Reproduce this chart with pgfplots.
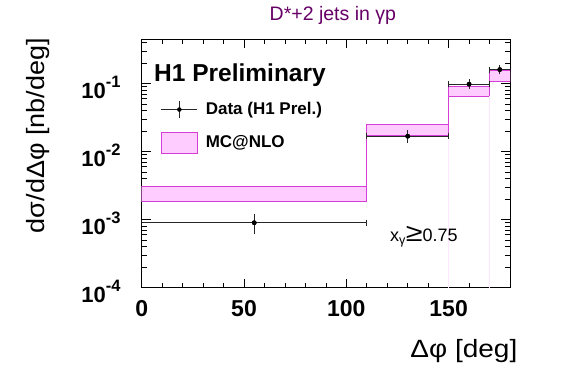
\documentclass[border=0pt]{standalone}
\usepackage{fontspec}
\setmainfont{Liberation Sans}
\usepackage{pgfplots}
\pgfplotsset{compat=1.18}
\definecolor{pinkfill}{RGB}{255,204,255}
\definecolor{magline}{RGB}{214,61,214}
\definecolor{faintpink}{RGB}{255,232,255}
\definecolor{titlepurple}{RGB}{102,0,102}
\newcommand\ylab[1]{\fontsize{22}{22}\selectfont\bfseries 10\raisebox{11pt}{\fontsize{16.5}{16.5}\selectfont #1}}
\begin{document}
\begin{tikzpicture}
\useasboundingbox (-141.7pt,-96.3pt) rectangle (425.3pt,287.7pt);
\begin{axis}[
  at={(0pt,0pt)}, anchor=south west,
  scale only axis, width=368.3pt, height=248.7pt,
  ymode=log, xmin=0, xmax=180, ymin=1e-4, ymax=0.45,
  axis line style={line width=0.8pt},
  every tick/.style={black, line width=0.7pt},
  major tick length=9pt, minor tick length=5pt,
  xtick={0,50,100,150}, xticklabels={0,50,100,150},
  minor xtick={10,20,30,40,60,70,80,90,110,120,130,140,160,170},
  ytick={1e-4,1e-3,1e-2,1e-1},
  yticklabels={\ylab{-4},\ylab{-3},\ylab{-2},\ylab{-1}},
  minor ytick={2e-4,3e-4,4e-4,5e-4,6e-4,7e-4,8e-4,9e-4,2e-3,3e-3,4e-3,5e-3,6e-3,7e-3,8e-3,9e-3,2e-2,3e-2,4e-2,5e-2,6e-2,7e-2,8e-2,9e-2,0.2,0.3,0.4},
  xticklabel style={font=\fontsize{23}{23}\selectfont\bfseries, anchor=north, inner sep=0pt, yshift=-12.3pt},
  yticklabel style={anchor=base east, inner sep=0pt, xshift=-21pt, yshift=-15pt},
  xlabel={\scalebox{1.12}[1]{Δφ [deg]}},
  xlabel style={font=\fontsize{25}{25}\selectfont, at={(axis description cs:1.0206,0)}, anchor=base east, inner sep=0pt, yshift=-69.3pt},
  ylabel={\scalebox{1.08}[1]{dσ/dΔφ [nb/deg]}},
  ylabel style={font=\fontsize{25}{25}\selectfont, at={(axis description cs:-0.265,1.004)}, anchor=base east, inner sep=0pt},
  title={D*+2 jets in γp},
  title style={font=\fontsize{19.5}{19.5}\selectfont, text=titlepurple, at={(axis description cs:0.519,1)}, anchor=base, inner sep=0pt, yshift=12.3pt},
  legend style={at={(rel axis cs:0.0516,0.752)}, anchor=north west, draw=none, fill=none, inner sep=0pt,
    row sep=13.5pt, column sep=8pt, font=\fontsize{17}{17}\selectfont\bfseries,
    nodes={inner sep=0pt}},
  legend cell align=left,
]
% MC@NLO band
\addplot[fill=pinkfill, draw=magline, line width=0.9pt, forget plot] coordinates {
  (0,3.11e-3) (110,3.11e-3) (110,2.53e-2) (150,2.53e-2) (150,0.0913) (170,0.0913) (170,0.153) (180,0.153)
  (180,0.1055) (170,0.1055) (170,0.0652) (150,0.0652) (150,1.74e-2) (110,1.74e-2) (110,1.83e-3) (0,1.83e-3)
} -- cycle;
\addplot[faintpink, line width=0.6pt, forget plot] coordinates {(150,1e-4) (150,1.74e-2)};
\addplot[faintpink, line width=0.6pt, forget plot] coordinates {(170,1e-4) (170,0.0652)};
% Data: horizontal (bin width) error bars
\addplot[draw=none, only marks, mark=none, forget plot,
  error bars/.cd, x dir=both, x explicit,
  error bar style={line width=0.7pt, black!85},
  error mark=|, error mark options={mark size=3pt, line width=0.7pt, black!85},
  ] coordinates {
  (55,9.0e-4) +- (55,0)
  (130,1.68e-2) +- (20,0)
  (160,0.0977) +- (10,0)
  (175,0.160) +- (5,0)
};
% Data: vertical error bars and points
\addplot[black, only marks, mark=*, mark size=2.2pt, forget plot,
  error bars/.cd, y dir=both, y explicit,
  error bar style={line width=0.7pt, black!85},
  error mark=-, error mark options={mark size=3pt, line width=0.7pt, black!85},
  ] coordinates {
  (55,9.0e-4) += (0,2.0e-4) -= (0,2.2e-4)
  (130,1.68e-2) += (0,2.0e-3) -= (0,2.1e-3)
  (160,0.0977) += (0,0.006) -= (0,0.006)
  (175,0.160) += (0,0.010) -= (0,0.010)
};
\addlegendimage{legend image code/.code={
  \draw[black!85, line width=0.7pt] (0pt,0pt) -- (36pt,0pt);
  \draw[black!85, line width=0.7pt] (18pt,-8.3pt) -- (18pt,8.3pt);
  \fill[black] (18pt,0pt) circle (2pt);}}
\addlegendentry{Data (H1 Prel.)}
\addlegendimage{legend image code/.code={
  \draw[fill=pinkfill, draw=magline, line width=0.9pt] (0pt,-10.5pt) rectangle (36pt,10.5pt);}}
\addlegendentry{MC@NLO}
\node[anchor=base west, inner sep=0pt, font=\fontsize{24.5}{24.5}\selectfont\bfseries] at (rel axis cs:0.0334,0.828) {H1 Preliminary};
\node[anchor=base west, inner sep=0pt, font=\fontsize{18}{18}\selectfont] at (rel axis cs:0.674,0.185) {x\textsubscript{γ}\scalebox{1.7}[1.4]{≥}0.75};
\end{axis}
\end{tikzpicture}
\end{document}
